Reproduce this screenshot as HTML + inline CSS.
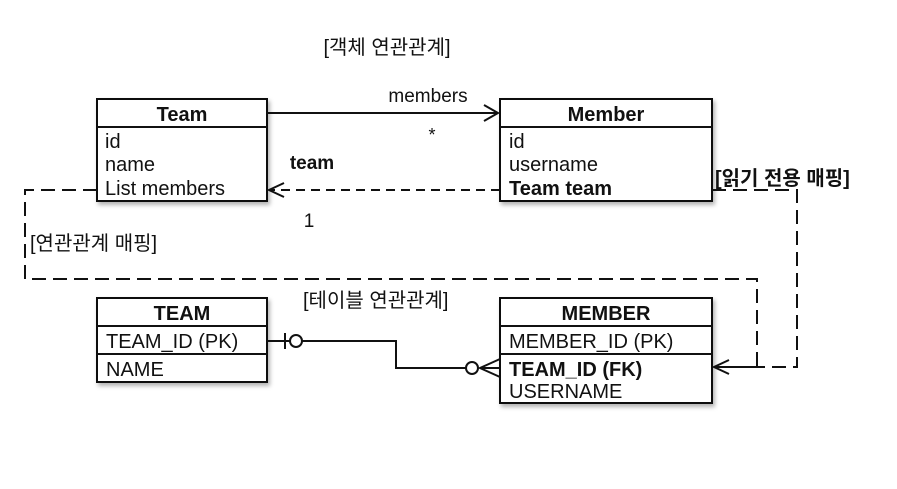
<!DOCTYPE html>
<html><head><meta charset="utf-8"><style>
html,body{margin:0;padding:0;background:#fff;}
svg{display:block;}
text{font-family:"Liberation Sans","Noto Sans CJK KR",sans-serif;fill:#111;}
</style></head><body>
<svg width="897" height="489" viewBox="0 0 897 489" xmlns="http://www.w3.org/2000/svg">
<defs>
<filter id="sh" x="-10%" y="-10%" width="130%" height="130%"><feDropShadow dx="2" dy="3" stdDeviation="2" flood-color="#000" flood-opacity="0.3"/></filter>
</defs>
<text x="387" y="54" font-size="20" text-anchor="middle">[객체 연관관계]</text>

<!-- Team -->
<rect x="97" y="99" width="170" height="102" fill="#fff" stroke="#111" stroke-width="2" filter="url(#sh)"/>
<line x1="97" y1="127" x2="267" y2="127" stroke="#111" stroke-width="2"/>
<text x="182" y="121" font-size="20" font-weight="bold" text-anchor="middle">Team</text>
<text x="105" y="148" font-size="20">id</text>
<text x="105" y="171" font-size="20">name</text>
<text x="105" y="195" font-size="20">List members</text>

<!-- Member -->
<rect x="500" y="99" width="212" height="102" fill="#fff" stroke="#111" stroke-width="2" filter="url(#sh)"/>
<line x1="500" y1="127" x2="712" y2="127" stroke="#111" stroke-width="2"/>
<text x="606" y="121" font-size="20" font-weight="bold" text-anchor="middle">Member</text>
<text x="509" y="148" font-size="20">id</text>
<text x="509" y="171" font-size="20">username</text>
<text x="509" y="195" font-size="20" font-weight="bold">Team team</text>

<!-- members arrow -->
<line x1="267" y1="113" x2="498" y2="113" stroke="#111" stroke-width="2"/>
<polyline points="484,105 498,113 484,121" fill="none" stroke="#111" stroke-width="2"/>
<text x="428" y="102" font-size="19" text-anchor="middle">members</text>
<text x="432" y="141" font-size="18" text-anchor="middle">*</text>
<text x="312" y="169" font-size="19" font-weight="bold" text-anchor="middle">team</text>

<!-- team dashed arrow -->
<line x1="500" y1="190" x2="269" y2="190" stroke="#111" stroke-width="2" stroke-dasharray="9,6"/>
<polyline points="284,183 269,190 284,197" fill="none" stroke="#111" stroke-width="2"/>
<text x="309" y="227" font-size="19" text-anchor="middle">1</text>

<!-- left mapping loop -->
<polyline points="97,190 25,190 25,279 757,279 757,367 712,367" fill="none" stroke="#111" stroke-width="2" stroke-dasharray="14,7"/>
<text x="30" y="250" font-size="20">[연관관계 매핑]</text>

<!-- right read-only loop -->
<polyline points="712,190 797,190 797,367 714,367" fill="none" stroke="#111" stroke-width="2" stroke-dasharray="14,7"/>
<polyline points="729,360 714,367 729,374" fill="none" stroke="#111" stroke-width="2"/>
<text x="715" y="185" font-size="20" font-weight="bold">[읽기 전용 매핑]</text>

<text x="303" y="307" font-size="20">[테이블 연관관계]</text>

<!-- TEAM -->
<rect x="97" y="298" width="170" height="84" fill="#fff" stroke="#111" stroke-width="2" filter="url(#sh)"/>
<line x1="97" y1="326" x2="267" y2="326" stroke="#111" stroke-width="2"/>
<line x1="97" y1="354" x2="267" y2="354" stroke="#111" stroke-width="2"/>
<text x="182" y="320" font-size="20" font-weight="bold" text-anchor="middle">TEAM</text>
<text x="106" y="348" font-size="20" fill="#222">TEAM_ID (PK)</text>
<text x="106" y="376" font-size="20" fill="#222">NAME</text>

<!-- MEMBER -->
<rect x="500" y="298" width="212" height="105" fill="#fff" stroke="#111" stroke-width="2" filter="url(#sh)"/>
<line x1="500" y1="326" x2="712" y2="326" stroke="#111" stroke-width="2"/>
<line x1="500" y1="354" x2="712" y2="354" stroke="#111" stroke-width="2"/>
<text x="606" y="320" font-size="20" font-weight="bold" text-anchor="middle">MEMBER</text>
<text x="509" y="348" font-size="20" fill="#222">MEMBER_ID (PK)</text>
<text x="509" y="376" font-size="20" font-weight="bold">TEAM_ID (FK)</text>
<text x="509" y="398" font-size="20" fill="#222">USERNAME</text>

<!-- ER connector -->
<line x1="267" y1="341" x2="290" y2="341" stroke="#111" stroke-width="2"/>
<line x1="285" y1="333" x2="285" y2="349" stroke="#111" stroke-width="2"/>
<circle cx="296" cy="341" r="6" fill="#fff" stroke="#111" stroke-width="2"/>
<polyline points="302,341 396,341 396,368 466,368" fill="none" stroke="#111" stroke-width="2"/>
<circle cx="472" cy="368" r="6" fill="#fff" stroke="#111" stroke-width="2"/>
<polyline points="500,359 480,368 500,377" fill="none" stroke="#111" stroke-width="2"/>
<line x1="480" y1="368" x2="500" y2="368" stroke="#111" stroke-width="2"/>
</svg>
</body></html>
